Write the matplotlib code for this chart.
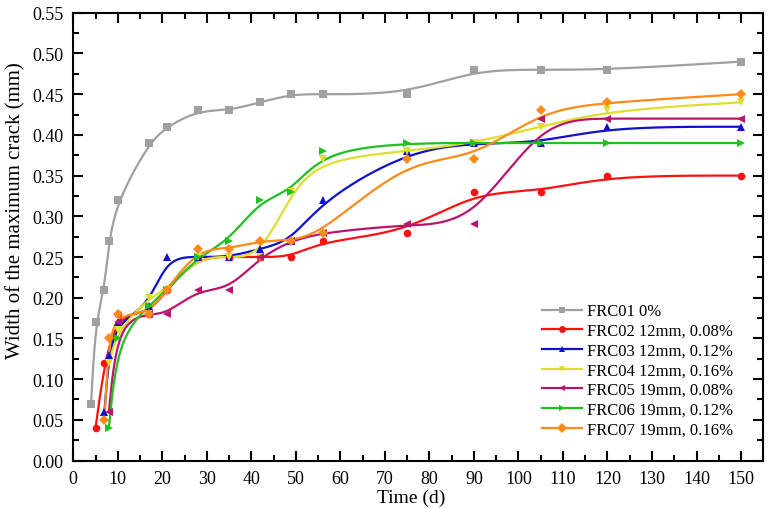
import numpy as np
import matplotlib
matplotlib.use("Agg")
import matplotlib.pyplot as plt
from matplotlib.ticker import MultipleLocator

plt.rcParams['font.family'] = ['Liberation Serif', 'DejaVu Serif']
plt.rcParams['mathtext.fontset'] = 'stix'

# data
labels = ["FRC01 0%", "FRC02 12mm, 0.08%", "FRC03 12mm, 0.12%",
          "FRC04 12mm, 0.16%", "FRC05 19mm, 0.08%", "FRC06 19mm, 0.12%",
          "FRC07 19mm, 0.16%"]

t01 = [4, 5, 7, 8, 10, 17, 21, 28, 35, 42, 49, 56, 75, 90, 105, 120, 150]
w01 = [0.07, 0.17, 0.21, 0.27, 0.32, 0.39, 0.41, 0.43, 0.43, 0.44, 0.45, 0.45, 0.45, 0.48, 0.48, 0.48, 0.49]

t02 = [5, 7, 10, 17, 21, 28, 35, 42, 49, 56, 75, 90, 105, 120, 150]
w02 = [0.04, 0.12, 0.18, 0.18, 0.21, 0.25, 0.25, 0.25, 0.25, 0.27, 0.28, 0.33, 0.33, 0.35, 0.35]

t03 = [7, 8, 10, 17, 21, 28, 35, 42, 49, 56, 75, 90, 105, 120, 150]
w03 = [0.06, 0.13, 0.17, 0.19, 0.25, 0.25, 0.25, 0.26, 0.27, 0.32, 0.38, 0.39, 0.39, 0.41, 0.41]

t04 = [8, 10, 17, 21, 28, 35, 42, 49, 56, 75, 90, 105, 120, 150]
w04 = [0.12, 0.16, 0.20, 0.21, 0.25, 0.25, 0.25, 0.33, 0.37, 0.38, 0.39, 0.41, 0.43, 0.44]

t05 = [8, 10, 17, 21, 28, 35, 42, 49, 56, 75, 90, 105, 120, 150]
w05 = [0.06, 0.17, 0.18, 0.18, 0.21, 0.21, 0.25, 0.27, 0.28, 0.29, 0.29, 0.42, 0.42, 0.42]

t06 = [8, 10, 17, 21, 28, 35, 42, 49, 56, 75, 90, 105, 120, 150]
w06 = [0.04, 0.15, 0.19, 0.21, 0.25, 0.27, 0.32, 0.33, 0.38, 0.39, 0.39, 0.39, 0.39, 0.39]

t07 = [7, 8, 10, 17, 21, 28, 35, 42, 49, 56, 75, 90, 105, 120, 150]
w07 = [0.05, 0.15, 0.18, 0.18, 0.21, 0.26, 0.26, 0.27, 0.27, 0.28, 0.37, 0.37, 0.43, 0.44, 0.45]

times = [t01, t02, t03, t04, t05, t06, t07]
widths = [w01, w02, w03, w04, w05, w06, w07]
colors = ["#a0a0a0", "#ff1010", "#1010d0", "#dede2c", "#b8166e", "#1fc01f", "#ff8a1a"]
markers = ["s", "o", "^", "v", "<", ">", "D"]


def bspline(x, y, n=40):
    # uniform cubic B-spline with the points as control points, clamped ends
    px = np.r_[x[0], x[0], x, x[-1], x[-1]].astype(float)
    py = np.r_[y[0], y[0], y, y[-1], y[-1]].astype(float)
    t = np.linspace(0, 1, n)
    b0 = (1 - t) ** 3 / 6
    b1 = (3 * t**3 - 6 * t**2 + 4) / 6
    b2 = (-3 * t**3 + 3 * t**2 + 3 * t + 1) / 6
    b3 = t**3 / 6
    xs, ys = [], []
    for i in range(len(px) - 3):
        xs.append(b0 * px[i] + b1 * px[i + 1] + b2 * px[i + 2] + b3 * px[i + 3])
        ys.append(b0 * py[i] + b1 * py[i + 1] + b2 * py[i + 2] + b3 * py[i + 3])
    return np.concatenate(xs), np.concatenate(ys)


fig = plt.figure(figsize=(7.71, 5.10), dpi=100)
ax = fig.add_axes([0.095, 0.095, 0.895, 0.878])

for t, w, c, m, lab in zip(times, widths, colors, markers, labels):
    sx, sy = bspline(t, w)
    ax.plot(sx, sy, color=c, lw=1.6, zorder=2)
    ax.plot(t, w, linestyle="none", marker=m, color=c, ms=5.5, mew=0, zorder=3)
    ax.plot([], [], color=c, lw=1.6, marker=m, ms=5, mew=0, label=lab)

ax.set_xlim(0, 155)
ax.set_ylim(0, 0.55)
ax.xaxis.set_major_locator(MultipleLocator(10))
ax.xaxis.set_minor_locator(MultipleLocator(5))
ax.yaxis.set_major_locator(MultipleLocator(0.05))
ax.yaxis.set_minor_locator(MultipleLocator(0.025))
ax.yaxis.set_major_formatter(plt.FuncFormatter(lambda v, p: "%.2f" % v))
ax.tick_params(which="both", direction="in", top=True, right=True, labelsize=13, width=1.5)
ax.tick_params(which="major", length=7, pad=7)
ax.tick_params(which="minor", length=4)
for s in ax.spines.values():
    s.set_linewidth(1.5)

ax.set_xlabel("Time (d)", fontsize=14, labelpad=1)
ax.set_ylabel("Width of the maximum crack (mm)", fontsize=15, labelpad=5)
ax.xaxis.label.set_x(0.49)
ax.yaxis.label.set_y(0.56)

ax.legend(loc="upper left", bbox_to_anchor=(0.662, 0.377), frameon=False,
          fontsize=12, handlelength=2.4, handletextpad=0.3, labelspacing=0.22,
          borderpad=0.2)

fig.savefig("out.png", dpi=100)
